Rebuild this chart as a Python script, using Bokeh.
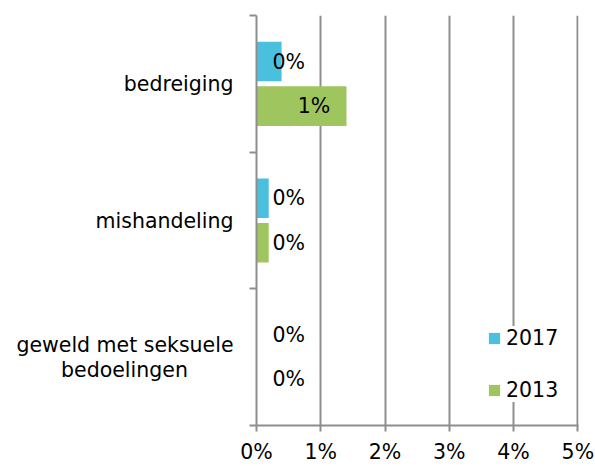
from bokeh.plotting import figure
from bokeh.models import Range1d, FixedTicker, ColumnDataSource
from bokeh.core.properties import value
from bokeh.embed import file_html
from bokeh.resources import INLINE

categories = ["bedreiging", "mishandeling", "geweld met seksuele\nbedoelingen"]
series_names = ["2017", "2013"]
values_2017 = [0.39, 0.19, 0.0]
values_2013 = [1.40, 0.19, 0.0]
x_ticks = [0, 1, 2, 3, 4, 5]
x_tick_labels = ["0%", "1%", "2%", "3%", "4%", "5%"]
colors = ["#4BBFDE", "#9FC55F"]

FONT = "DejaVu Sans"
FS = "20.5px"
GRID = "#8E8E8E"
LINE_STEP = 0.1816      # category-units between wrapped label lines
PAD_NBSP = 7            # trailing no-break spaces to centre the short wrapped line

p = figure(width=595, height=466, output_backend="svg", toolbar_location=None,
           x_range=Range1d(0, 5.01), y_range=Range1d(3, 0),
           min_border_left=256, min_border_right=17, min_border_top=15, min_border_bottom=38)
p.outline_line_color = None
p.background_fill_color = "white"
p.border_fill_color = "white"

bar_h = 0.29
dodge = 0.163
for k, (name, vals, col) in enumerate(zip(series_names, [values_2017, values_2013], colors)):
    off = -dodge if k == 0 else dodge
    ys = [i + 0.5 + off for i in range(len(categories))]
    src = ColumnDataSource(dict(
        y=ys, right=vals,
        lx=[max(0.25, v - 0.76) for v in vals],
        txt=[f"{round(v):.0f}%" for v in vals]))
    p.hbar(y="y", left=0, right="right", height=bar_h, source=src,
           fill_color=col, line_color=None, legend_label=name)
    p.text(x="lx", y="y", text="txt", source=src, text_align="left", text_baseline="middle",
           text_font=value(FONT), text_font_size=FS, text_color="black")

# x axis
xa = p.xaxis[0]
xa.ticker = FixedTicker(ticks=x_ticks)
xa.major_label_overrides = {t: l for t, l in zip(x_ticks, x_tick_labels)}
xa.axis_line_color = GRID
xa.axis_line_width = 2
xa.major_tick_line_color = GRID
xa.major_tick_line_width = 2
xa.major_tick_out = 6
xa.major_tick_in = 0
xa.minor_tick_line_color = None
xa.major_label_standoff = 8
xa.major_label_text_font = FONT
xa.major_label_text_font_size = FS
xa.major_label_text_color = "black"

# y axis: one label position per text line of each category
label_ticks = []
label_texts = {}
for i, c in enumerate(categories):
    lines = c.split("\n")
    n = len(lines)
    longest = max(len(s) for s in lines)
    for j, s in enumerate(lines):
        pos = i + 0.5 + (j - (n - 1) / 2) * LINE_STEP
        if len(s) < longest:
            s = s + "\u00a0" * PAD_NBSP
        label_ticks.append(pos)
        label_texts[pos] = s

ya = p.yaxis[0]
ya.ticker = FixedTicker(ticks=label_ticks, minor_ticks=list(range(len(categories) + 1)))
ya.major_label_overrides = label_texts
ya.axis_line_color = GRID
ya.axis_line_width = 2
ya.major_tick_line_color = None
ya.major_tick_out = 0
ya.major_tick_in = 0
ya.minor_tick_line_color = GRID
ya.minor_tick_line_width = 2
ya.minor_tick_out = 7
ya.minor_tick_in = 0
ya.major_label_standoff = 16
ya.major_label_text_font = FONT
ya.major_label_text_font_size = FS
ya.major_label_text_color = "black"

p.xgrid.ticker = FixedTicker(ticks=x_ticks[1:])
p.xgrid.grid_line_color = GRID
p.xgrid.grid_line_width = 2
p.ygrid.visible = False

lg = p.legend[0]
lg.location = (231, 23)
lg.padding = 12
lg.margin = 0
lg.spacing = 28
lg.label_height = 24
lg.glyph_height = 14
lg.glyph_width = 14
lg.label_standoff = 5
lg.label_text_font = FONT
lg.label_text_font_size = FS
lg.label_text_color = "black"
lg.background_fill_color = "white"
lg.background_fill_alpha = 1
lg.border_line_color = None

open("out.html", "w").write(file_html(p, INLINE))
